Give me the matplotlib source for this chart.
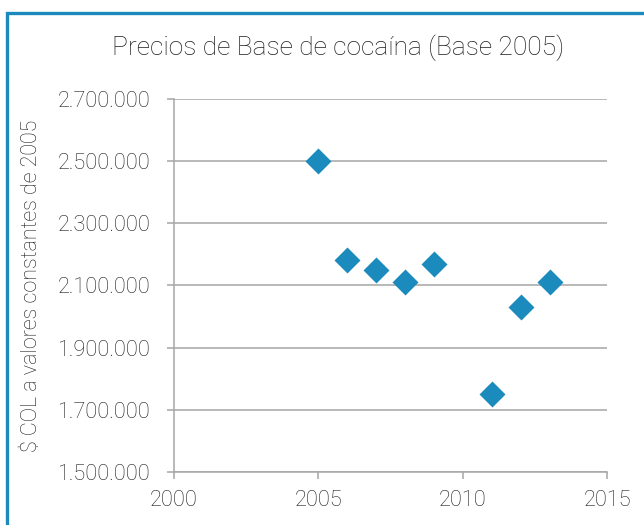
import matplotlib.pyplot as plt
from matplotlib.patches import Rectangle
from matplotlib.ticker import FuncFormatter

plt.rcParams["font.family"] = ["Roboto", "DejaVu Sans"]
plt.rcParams["font.weight"] = "light"

years = [2005, 2006, 2007, 2008, 2009, 2011, 2012, 2013]
prices = [2500000, 2182000, 2150000, 2112000, 2170000, 1752000, 2031000, 2111000]

blue = "#1b8bbd"
grid_grey = "#a6a6a6"
text_col = "#1e1e1e"

fig = plt.figure(figsize=(6.44, 5.25), dpi=100)
ax = fig.add_axes([0.270, 0.101, 0.673, 0.711])

ax.scatter(years, prices, marker="D", s=175, color=blue, zorder=3, linewidths=0)

ax.set_xlim(2000, 2015)
ax.set_ylim(1500000, 2700000)
ax.set_xticks([2000, 2005, 2010, 2015])
ax.set_yticks(range(1500000, 2700001, 200000))
ax.yaxis.set_major_formatter(FuncFormatter(lambda v, p: f"{int(v):,}".replace(",", ".")))

ax.grid(axis="y", color=grid_grey, linewidth=1.1)
ax.set_axisbelow(True)
for side in ["top", "right"]:
    ax.spines[side].set_visible(False)
for side in ["left", "bottom"]:
    ax.spines[side].set_color(grid_grey)
    ax.spines[side].set_linewidth(1.1)
ax.tick_params(axis="both", colors=grid_grey, length=5, width=1.1, labelsize=15.7,
               labelcolor=text_col)
ax.tick_params(axis="y", pad=12)
ax.tick_params(axis="x", pad=8)

fig.text(32 / 644, 1 - 286 / 525, "$ COL a valores constantes de 2005", rotation=90,
         ha="center", va="center", fontsize=15.5, color=text_col)
fig.text(338 / 644, 1 - 48 / 525, "Precios de Base de cocaína (Base 2005)",
         ha="center", va="center", fontsize=19, color=text_col)

# frame around the chart
fig.patches.append(Rectangle((7 / 644, -0.1), 1.2, 1 - 13 / 525 + 0.1,
                             transform=fig.transFigure, fill=False,
                             edgecolor=blue, linewidth=2.4))

fig.savefig("out.png", dpi=100)
